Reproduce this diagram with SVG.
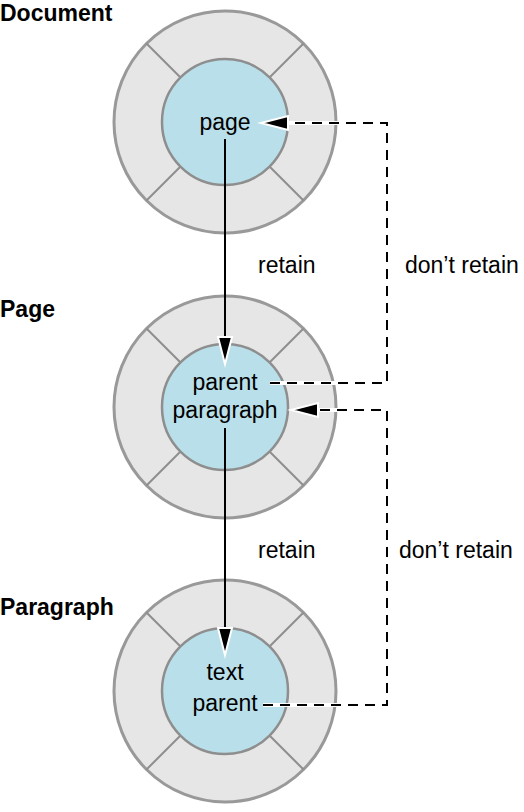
<svg xmlns="http://www.w3.org/2000/svg" width="524" height="812" viewBox="0 0 524 812">
<style>
.outer{fill:#e6e6e6;stroke:#999;stroke-width:3}
.inner{fill:#b9e0ea;stroke:#8e8e8e;stroke-width:2.5}
.div{stroke:#8e8e8e;stroke-width:2}
.t{font-family:"Liberation Sans",Arial,sans-serif;font-size:23px;fill:#000}
.c{text-anchor:middle}
.b{font-weight:bold}
.solid{stroke:#000;stroke-width:2;fill:none}
.under{stroke:#fff;stroke-width:4;fill:none}
.dash{stroke:#000;stroke-width:2;fill:none;stroke-dasharray:10 7}
.head{fill:#000;stroke:#fff;stroke-width:2;stroke-linejoin:miter}
</style>
<defs>
<g id="ring">
<circle class="outer" cx="0" cy="0" r="111"/>
<line class="div" x1="-44.5" y1="-44.5" x2="-78.5" y2="-78.5"/>
<line class="div" x1="44.5" y1="-44.5" x2="78.5" y2="-78.5"/>
<line class="div" x1="-44.5" y1="44.5" x2="-78.5" y2="78.5"/>
<line class="div" x1="44.5" y1="44.5" x2="78.5" y2="78.5"/>
<circle class="inner" cx="0" cy="0" r="63"/>
</g>
<polygon id="ah" class="head" points="0,0 -7,-27 7,-27"/>
</defs>
<g id="document">
<text class="t b" x="0" y="21">Document</text>
<use href="#ring" x="225" y="122"/>
<text class="t c" x="225" y="130">page</text>
</g>
<g id="page">
<text class="t b" x="0" y="317">Page</text>
<use href="#ring" x="225" y="407"/>
<text class="t c" x="225" y="390">parent</text>
<text class="t c" x="225" y="418">paragraph</text>
</g>
<g id="paragraph">
<text class="t b" x="0" y="615">Paragraph</text>
<use href="#ring" x="225" y="691"/>
<text class="t c" x="225" y="680">text</text>
<text class="t c" x="225" y="711">parent</text>
</g>
<g id="connectors">
<line class="solid" x1="225" y1="139" x2="225" y2="340"/>
<use href="#ah" transform="translate(225,364)"/>
<line class="solid" x1="225" y1="428" x2="225" y2="630"/>
<use href="#ah" transform="translate(225,655)"/>
<polyline class="under" points="270,383 387,383 387,123 288,123"/>
<polyline class="dash" points="270,383 387,383 387,123 288,123"/>
<use href="#ah" transform="translate(261,123) rotate(90)"/>
<polyline class="under" points="263,705 387,705 387,410 318,410"/>
<polyline class="dash" points="263,705 387,705 387,410 318,410"/>
<use href="#ah" transform="translate(291,410) rotate(90)"/>
<text class="t" x="258" y="273">retain</text>
<text class="t" x="405" y="273">don’t retain</text>
<text class="t" x="258" y="558">retain</text>
<text class="t" x="399" y="558">don’t retain</text>
</g>
</svg>
